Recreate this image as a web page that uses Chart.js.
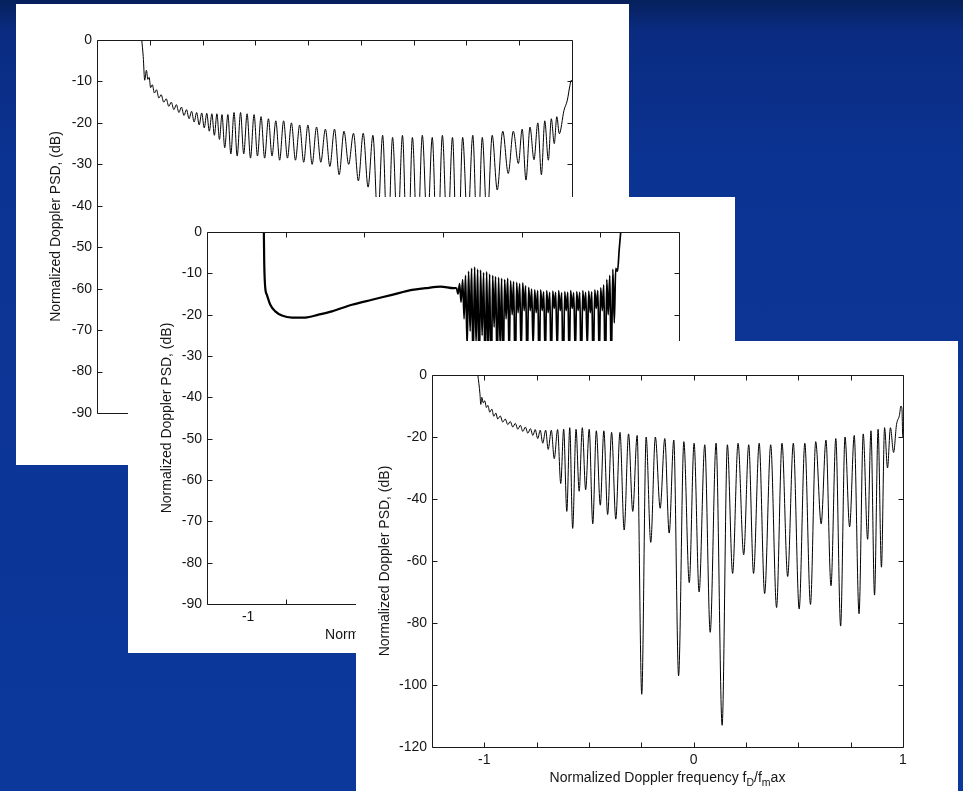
<!DOCTYPE html>
<html>
<head>
<meta charset="utf-8">
<script src="https://cdn.jsdelivr.net/npm/chart.js@4.4.1/dist/chart.umd.min.js"></script>
<style>
    html, body { margin: 0; padding: 0; }
    body {
        position: relative;
        width: 963px;
        height: 791px;
        overflow: hidden;
        background: linear-gradient(180deg, #06205c 0px, #0a2b80 30px, #0b3392 160px, #0c389c 791px);
    }
    .panel { position: absolute; background: #fff; }
    .panel canvas { display: block; }
</style>
</head>
<body>

<div class="panel" style="left:16px;top:4px;width:613px;height:461px">
    <canvas id="psdBack" width="613" height="461"></canvas>
</div>
<div class="panel" style="left:128px;top:197px;width:607px;height:456px">
    <canvas id="psdMiddle" width="607" height="456"></canvas>
</div>
<div class="panel" style="left:356px;top:341px;width:602px;height:450px">
    <canvas id="psdFront" width="602" height="450"></canvas>
</div>

<script>
/* ---------- data: normalized Doppler frequency / PSD in dB ---------- */

// back plot
const backFreq = [
    -1.038, -1.031, -1.024, -1.016, -1.009, -1.003, -0.996, -0.988, -0.978, -0.968,
    -0.957, -0.946, -0.934, -0.922, -0.910, -0.898, -0.886, -0.874, -0.862, -0.850,
    -0.838, -0.826, -0.814, -0.802, -0.790, -0.778, -0.766, -0.754, -0.742, -0.730,
    -0.718, -0.706, -0.694, -0.682, -0.670, -0.658,
    -0.645, -0.630, -0.616, -0.601, -0.586, -0.570, -0.555, -0.539, -0.523, -0.506,
    -0.490, -0.473, -0.456, -0.438, -0.421, -0.403, -0.385, -0.366, -0.348, -0.329,
    -0.310, -0.290, -0.271, -0.251, -0.231, -0.210, -0.190, -0.168, -0.147, -0.125,
    -0.103, -0.080, -0.058, -0.035, -0.012, 0.011, 0.034, 0.057, 0.080, 0.103,
    0.127, 0.150, 0.174, 0.197, 0.221, 0.244, 0.268, 0.291, 0.315, 0.338,
    0.362, 0.386, 0.410, 0.434, 0.458, 0.482, 0.506, 0.530, 0.553, 0.575,
    0.598, 0.622, 0.646, 0.672, 0.698, 0.722, 0.746, 0.764, 0.782, 0.801,
    0.820, 0.838, 0.855, 0.871, 0.888, 0.902, 0.916, 0.928, 0.940,
    0.962, 0.978, 0.990, 0.997, 1.000
]
const backPsd = [
    0, -4, -9.7, -7.3, -9.5, -9, -11.5, -10.8, -12.8, -12,
    -14, -13.2, -15, -14.2, -16, -15, -16.8, -15.6, -17.5, -16.2,
    -18.2, -16.8, -19, -17.2, -19.8, -17.5, -20.5, -17.6, -21.2, -17.7,
    -22, -17.8, -23, -17.8, -24, -18,
    -26, -18, -27.5, -17.5, -28, -17.5, -27.5, -17.8, -28.5, -18,
    -28, -18.5, -28.5, -19, -28, -19.5, -29, -19.5, -28.5, -20,
    -29, -20.5, -29.5, -20.5, -30, -21, -29.5, -21.5, -30.5, -21.5,
    -32.5, -22, -30, -22.5, -34, -22.5, -35.5, -23, -44, -23,
    -52, -23.5, -47, -23, -58, -23.5, -50, -23, -46, -23.5,
    -55, -23, -49, -23.5, -60, -23.5, -45, -23, -52, -23.5,
    -44, -23, -36.2, -22, -32.2, -22, -29.8, -21.5, -33.8, -21,
    -28.9, -20, -32.5, -19.5, -29, -19, -25, -18.5, -22.6,
    -17, -14.5, -11, -9.7, -10
]

// middle plot: smooth branch, then the dense ripple near the upper edge
const midSmoothFreq = [
    -1.002, -1.000, -0.994, -0.985, -0.966, -0.938, -0.901, -0.845, -0.770, -0.696,
    -0.621, -0.509, -0.397, -0.285, -0.173, -0.098, -0.014, 0.061, 0.076
]
const midSmoothPsd = [
    0, -7.2, -13.6, -15.2, -17.6, -19.2, -20.2, -20.7, -20.7, -20.0,
    -19.2, -17.6, -16.4, -15.2, -14.0, -13.6, -13.2, -13.6, -13.5
]
const midRippleFreq = [
    0.076, 0.084, 0.093, 0.101, 0.110, 0.118, 0.126, 0.135, 0.143, 0.152,
    0.160, 0.168, 0.177, 0.185, 0.194, 0.202, 0.210, 0.219, 0.227, 0.236,
    0.244, 0.252, 0.261, 0.269, 0.278, 0.286, 0.294, 0.303, 0.311, 0.320,
    0.328, 0.336, 0.345, 0.353, 0.362, 0.370, 0.378, 0.387, 0.395, 0.404,
    0.412, 0.420, 0.429, 0.437, 0.446, 0.454, 0.462, 0.471, 0.479, 0.488,
    0.496, 0.504, 0.513, 0.521, 0.530, 0.538, 0.546, 0.555, 0.563, 0.572,
    0.580, 0.588, 0.597, 0.605, 0.614, 0.622, 0.630, 0.639, 0.647, 0.656,
    0.664, 0.672, 0.681, 0.689, 0.698, 0.706, 0.714, 0.723, 0.731, 0.740,
    0.748, 0.756, 0.765, 0.773, 0.782, 0.790, 0.798, 0.807, 0.815, 0.824,
    0.832, 0.840, 0.849, 0.857, 0.866, 0.874, 0.882, 0.891, 0.899, 0.908,
    0.916, 0.924, 0.933, 0.941, 0.950, 0.958, 0.966,
    0.976, 0.986, 0.994
]
const midRipplePsd = [
    -13.5, -15, -12.5, -17, -11.5, -21, -10.5, -28, -9.5, -24,
    -8.8, -33, -8.5, -27, -9, -38, -9.2, -25, -9.8, -35,
    -9.6, -29, -10.2, -40, -10.5, -23, -10.8, -34, -11, -28,
    -11.2, -36, -11.5, -21, -11.2, -31, -11.8, -20, -12, -37,
    -12.2, -19.5, -12.5, -30, -12.3, -19, -13, -34, -13.4, -19,
    -13.8, -28, -14, -19.5, -14.2, -36, -14, -19, -14.5, -31,
    -14.2, -19.5, -14.6, -33, -14.3, -18.5, -14.6, -29, -14.2, -19,
    -14.7, -37, -14.4, -19, -14.6, -32, -14.2, -18.5, -14.7, -30,
    -14.4, -19, -14.6, -35, -14.2, -19, -14.6, -28, -14.3, -19.5,
    -14.5, -34, -14, -18.5, -14.2, -31, -13.5, -19, -12.8, -36,
    -11.5, -20, -10.5, -33, -9, -22, -8.8,
    -9.5, -4, 0
]

// front plot
const frontFreq = [
    -1.031, -1.021, -1.017, -1.012, -1.005, -0.998, -0.990, -0.983, -0.974, -0.964,
    -0.955, -0.945, -0.936, -0.924, -0.912, -0.900, -0.888, -0.876, -0.864, -0.852,
    -0.840, -0.828, -0.816, -0.804, -0.792, -0.780, -0.768, -0.757, -0.745, -0.733,
    -0.721, -0.707, -0.695, -0.680, -0.666, -0.650,
    -0.635, -0.621, -0.606, -0.592, -0.578, -0.562, -0.547, -0.532, -0.516, -0.499,
    -0.482, -0.465, -0.446, -0.429, -0.411, -0.392, -0.372, -0.352, -0.332, -0.311,
    -0.291, -0.270, -0.248, -0.227, -0.205, -0.183, -0.160, -0.138, -0.117, -0.095,
    -0.072, -0.047, -0.021, 0.002, 0.026, 0.053, 0.079, 0.107, 0.136, 0.161,
    0.186, 0.212, 0.239, 0.263, 0.286, 0.313, 0.339, 0.368, 0.396, 0.422,
    0.449, 0.476, 0.504, 0.531, 0.558, 0.583, 0.609, 0.632, 0.656, 0.679,
    0.702, 0.723, 0.745, 0.767, 0.790, 0.810, 0.831, 0.847, 0.864, 0.881,
    0.897, 0.912, 0.926, 0.940, 0.955, 0.969,
    0.983, 0.990, 0.995, 0.999, 1.000
]
const frontPsd = [
    0, -6, -9.5, -7.2, -9, -8.3, -10.5, -9.8, -12, -11,
    -13.3, -12.3, -14.2, -13.2, -15.2, -14.2, -16, -15, -16.8, -15.6,
    -17.5, -16.2, -18.2, -16.8, -18.8, -17.3, -19.5, -17.6, -20.5, -17.8,
    -22, -17.8, -24, -17.8, -27, -17.6,
    -35, -17.5, -44, -17, -49.5, -17.5, -37.5, -17, -37, -17.5,
    -48, -18, -42, -18, -45, -18.5, -46.5, -18.5, -50, -19,
    -44, -19.5, -103, -20, -54, -20, -43, -20.5, -51, -21,
    -97, -21.5, -67, -22, -70, -22.5, -83, -22, -113, -22.5,
    -64, -22, -58, -22.5, -64, -22, -70.5, -22.5, -75, -22,
    -65, -22, -75.5, -22, -74, -21.5, -48, -21, -68, -20.5,
    -81, -20, -49, -19.5, -77, -19, -53, -18, -71, -17.5,
    -62, -17, -30, -17, -25, -16,
    -13, -10, -11, -20, -20
]

// axis labels and inward tick marks
const yLabels90 = [0, -10, -20, -30, -40, -50, -60, -70, -80, -90]
const yLabels120 = [0, -20, -40, -60, -80, -100, -120]
const xMarksQuarter = [-1, -0.75, -0.5, -0.25, 0, 0.25, 0.5, 0.75]
const xMarksMid = [-0.88, -0.44, 0, 0.44, 0.88]
const xLabelsFront = [-1, 0, 1]
const xTextFront = ['-1', '0', '1']
const xLabelsMid = [-1.09]
const xTextMid = ['-1']

const Y_TITLE = 'Normalized Doppler PSD, (dB)'
// [text, subscript?]
const X_TITLE = [['Normalized Doppler frequency f', 0], ['D', 1], ['/f', 0], ['m', 1], ['ax', 0]]

const FONT = '"Liberation Sans", Arial, sans-serif'
const INK = '#151515'

/* ---------- box, inward ticks and axis titles ---------- */

const matlabAxes = {
    id: 'matlabAxes',
    afterDatasetsDraw(chart, args, opts) {
        const { ctx, chartArea: a, scales } = chart
        const L = Math.round(a.left) + 0.5
        const T = Math.round(a.top) + 0.5
        const R = Math.round(a.right) + 0.5
        const B = Math.round(a.bottom) + 0.5
        const len = opts.tickLen

        ctx.save()
        ctx.strokeStyle = '#1a1a1a'
        ctx.lineWidth = 1
        ctx.beginPath()
        ctx.rect(L, T, R - L, B - T)
        opts.xMarks.forEach((v) => {
            const px = Math.round(scales.x.getPixelForValue(v)) + 0.5
            ctx.moveTo(px, B); ctx.lineTo(px, B - len)
            ctx.moveTo(px, T); ctx.lineTo(px, T + len)
        })
        opts.yMarks.forEach((v) => {
            const py = Math.round(scales.y.getPixelForValue(v)) + 0.5
            ctx.moveTo(L, py); ctx.lineTo(L + len, py)
            ctx.moveTo(R, py); ctx.lineTo(R - len, py)
        })
        ctx.stroke()

        ctx.fillStyle = INK
        const mainFont = '14px ' + FONT
        const subFont = '10.5px ' + FONT

        // vertical title
        ctx.save()
        ctx.font = mainFont
        ctx.translate(a.left - opts.yTitleGap, (a.top + a.bottom) / 2)
        ctx.rotate(-Math.PI / 2)
        ctx.textAlign = 'center'
        ctx.textBaseline = 'middle'
        ctx.fillText(Y_TITLE, 0, 0)
        ctx.restore()

        // horizontal title with subscripts
        let total = 0
        X_TITLE.forEach(([t, sub]) => {
            ctx.font = sub ? subFont : mainFont
            total += ctx.measureText(t).width
        })
        let x = (a.left + a.right) / 2 - total / 2
        const base = a.bottom + opts.xTitleGap
        ctx.textAlign = 'left'
        ctx.textBaseline = 'alphabetic'
        X_TITLE.forEach(([t, sub]) => {
            ctx.font = sub ? subFont : mainFont
            ctx.fillText(t, x, sub ? base + 4 : base)
            x += ctx.measureText(t).width
        })
        ctx.restore()
    }
}

function makePlot(id, cfg) {
    const tickFont = { family: FONT, size: 14 }
    const datasets = cfg.series.map((s) => ({
        data: s.freq.map((f, i) => ({ x: f, y: s.psd[i] })),
        borderColor: '#000',
        borderWidth: s.width,
        pointRadius: 0,
        fill: false,
        cubicInterpolationMode: 'monotone'
    }))

    return new Chart(document.getElementById(id), {
        type: 'line',
        data: { datasets },
        options: {
            responsive: false,
            animation: false,
            events: [],
            layout: { padding: { left: 0, top: cfg.margin.top, right: cfg.margin.right, bottom: 0 } },
            plugins: {
                legend: { display: false },
                tooltip: { enabled: false },
                matlabAxes: {
                    xMarks: cfg.xMarks,
                    yMarks: cfg.yLabels,
                    tickLen: 5,
                    yTitleGap: cfg.yTitleGap,
                    xTitleGap: 35
                }
            },
            scales: {
                x: {
                    type: 'linear',
                    min: cfg.xMin,
                    max: cfg.xMax,
                    grid: { display: false, drawTicks: false },
                    border: { display: false },
                    ticks: {
                        color: INK,
                        font: tickFont,
                        padding: 5,
                        maxRotation: 0,
                        autoSkip: false,
                        callback: (v, i) => cfg.xText[i]
                    },
                    afterBuildTicks: (s) => { s.ticks = cfg.xLabels.map((v) => ({ value: v })) },
                    afterFit: (s) => { s.height = cfg.margin.bottom }
                },
                y: {
                    type: 'linear',
                    min: cfg.yLabels[cfg.yLabels.length - 1],
                    max: 0,
                    grid: { display: false, drawTicks: false },
                    border: { display: false },
                    ticks: {
                        color: INK,
                        font: tickFont,
                        padding: 5,
                        autoSkip: false,
                        callback: (v) => String(v)
                    },
                    afterBuildTicks: (s) => { s.ticks = cfg.yLabels.map((v) => ({ value: v })) },
                    afterFit: (s) => { s.width = cfg.margin.left }
                }
            }
        },
        plugins: [matlabAxes]
    })
}

makePlot('psdBack', {
    series: [{ freq: backFreq, psd: backPsd, width: 1 }],
    xMin: -1.25, xMax: 1, xMarks: xMarksQuarter,
    xLabels: xLabelsFront, xText: xTextFront,
    yLabels: yLabels90, yTitleGap: 41,
    margin: { left: 81, top: 36, right: 57, bottom: 52 }
})

makePlot('psdMiddle', {
    series: [
        { freq: midSmoothFreq, psd: midSmoothPsd, width: 2.2 },
        { freq: midRippleFreq, psd: midRipplePsd, width: 1.7 }
    ],
    xMin: -1.32, xMax: 1.32, xMarks: xMarksMid,
    xLabels: xLabelsMid, xText: xTextMid,
    yLabels: yLabels90, yTitleGap: 40,
    margin: { left: 79, top: 35, right: 56, bottom: 49 }
})

makePlot('psdFront', {
    series: [{ freq: frontFreq, psd: frontPsd, width: 1 }],
    xMin: -1.25, xMax: 1, xMarks: xMarksQuarter,
    xLabels: xLabelsFront, xText: xTextFront,
    yLabels: yLabels120, yTitleGap: 47,
    margin: { left: 76, top: 34, right: 55, bottom: 44 }
})
</script>
</body>
</html>
